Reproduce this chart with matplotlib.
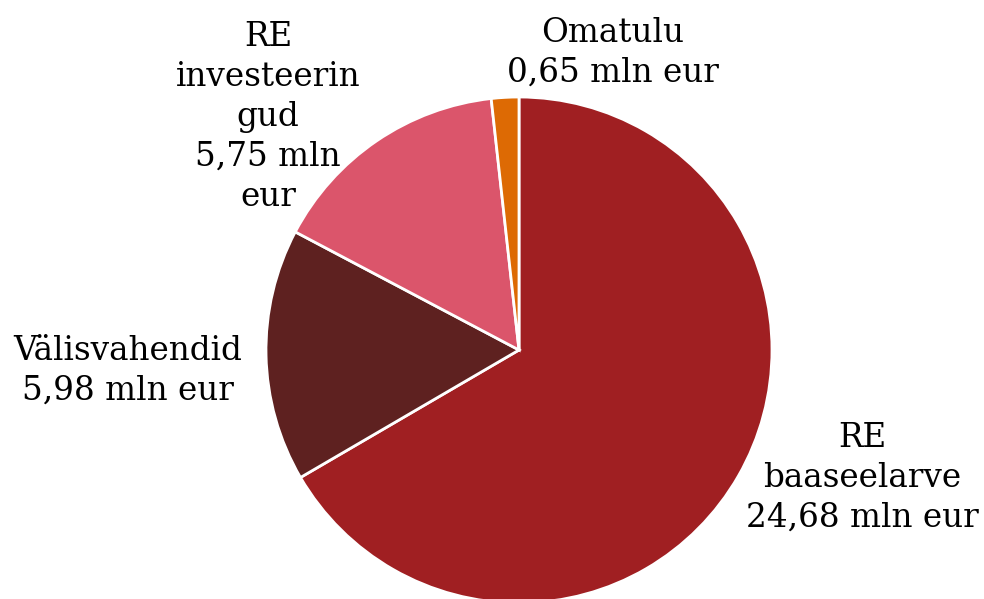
import matplotlib
matplotlib.use("Agg")
import matplotlib.pyplot as plt

categories = ["RE\nbaaseelarve", "Välisvahendid", "RE\ninvesteerin\ngud", "Omatulu"]
values = [24.68, 5.98, 5.75, 0.65]
value_labels = ["24,68 mln eur", "5,98 mln eur", "5,75 mln\neur", "0,65 mln eur"]
colors = ["#A01F22", "#5E2120", "#DB556B", "#DD6A04"]

W, H = 984, 599
fig = plt.figure(figsize=(W / 100, H / 100), dpi=100)
cx, cy, r = 519, 350, 253
ax = fig.add_axes([(cx - r) / W, (H - cy - r) / H, 2 * r / W, 2 * r / H])

ax.pie(values, colors=colors, startangle=90, counterclock=False, radius=1,
       wedgeprops=dict(edgecolor="white", linewidth=2))
ax.set_xlim(-1, 1)
ax.set_ylim(-1, 1)
ax.set_aspect("equal")
ax.axis("off")

# label positions (pixel centres in reference)
label_px = [(862, 478), (128, 371), (268, 117), (613, 53)]
for cat, val, (px, py) in zip(categories, value_labels, label_px):
    ax.text((px - cx) / r, (cy - py) / r, f"{cat}\n{val}", ha="center", va="center",
            fontsize=23.5, family="DejaVu Serif", linespacing=1.32, clip_on=False)

fig.savefig("out.png", dpi=100)
